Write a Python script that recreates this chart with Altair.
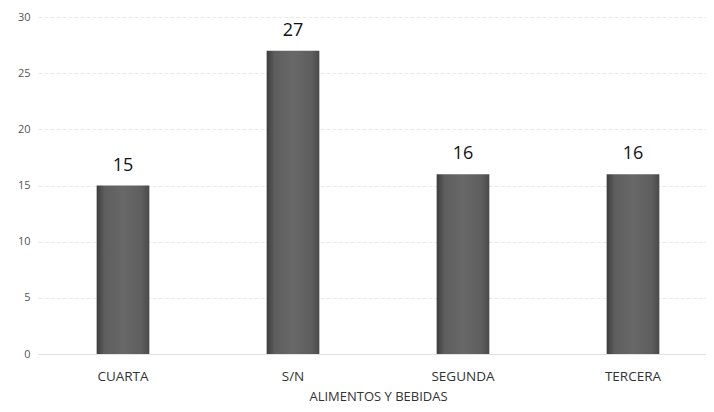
import altair as alt
import pandas as pd

categories = ["CUARTA", "S/N", "SEGUNDA", "TERCERA"]
values = [15, 27, 16, 16]
x_title = "ALIMENTOS Y BEBIDAS"

df = pd.DataFrame({"cat": categories, "val": values})

FONT = "Open Sans"

base = alt.Chart(df).encode(
    x=alt.X("cat:N", sort=categories, title=x_title,
            scale=alt.Scale(paddingInner=0.69, paddingOuter=0.345, range=[0, 680]),
            axis=alt.Axis(labelAngle=0, labelFont=FONT, labelFontSize=13.5, labelColor="#333",
                          labelPadding=15, ticks=False, domain=True, domainColor="#e2e2e2",
                          titleFont=FONT, titleFontSize=13, titleFontWeight="normal",
                          titleColor="#333", titlePadding=8)),
    y=alt.Y("val:Q", title=None,
            scale=alt.Scale(domain=[0, 30]),
            axis=alt.Axis(values=[0, 5, 10, 15, 20, 25, 30], labelFont=FONT, labelFontSize=11,
                          labelColor="#555", labelPadding=8, ticks=False, domain=False,
                          gridColor="#e8e8e8", gridDash=[4, 2]))
)

bars = base.mark_bar(
    color=alt.Gradient(
        gradient="linear", x1=0, x2=1, y1=0, y2=0,
        stops=[alt.GradientStop(color="#3c3c3c", offset=0),
               alt.GradientStop(color="#5e5e5e", offset=0.15),
               alt.GradientStop(color="#686868", offset=0.5),
               alt.GradientStop(color="#5e5e5e", offset=0.85),
               alt.GradientStop(color="#4a4a4a", offset=1)]
    )
)

text = base.mark_text(dy=-20, font=FONT, fontSize=18, color="#111").encode(
    text="val:Q"
)

chart = (bars + text).properties(
    width=668, height=337,
    background="white",
    autosize=alt.AutoSizeParams(type="none"),
    padding={"left": 30, "top": 9, "right": 0, "bottom": 50}
).configure_view(stroke=None)

chart.save("out.html", embed_options={"renderer": "svg", "actions": False})
